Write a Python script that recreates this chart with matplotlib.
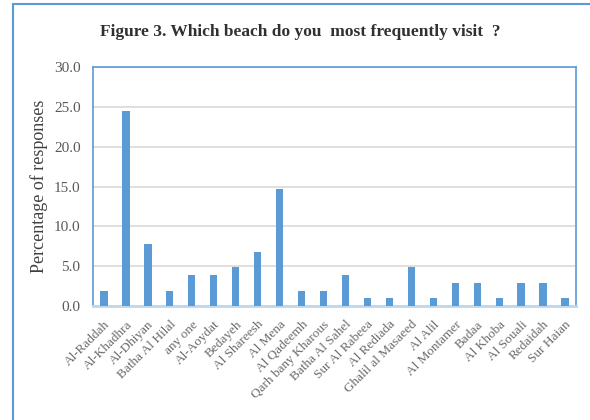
import numpy as np
import matplotlib.pyplot as plt
from matplotlib.patches import Rectangle

plt.rcParams.update({"font.family": "Liberation Serif", "font.size": 10})

beaches = ["Al-Raddah", "Al-Khadhra", "Al-Dhiyan", "Batha Al Hilal", "any one",
           "Al-Aoydat", "Bedayeh", "Al Shareesh", "Al Mena", "Al Qadeemh",
           "Qarh bany Kharous", "Batha Al Sahel", "Sur Al Rabeea", "Al Rediada",
           "Ghalil al Masaeed", "Al Alil", "Al Montamer", "Badaa", "Al Khoba",
           "Al Souali", "Redaidah", "Sur Haian"]
percent = [1.9, 24.5, 7.8, 1.9, 3.9, 3.9, 4.9, 6.8, 14.7, 1.9,
           1.9, 3.9, 1.0, 1.0, 4.9, 1.0, 2.9, 2.9, 1.0, 2.9, 2.9, 1.0]
yticks = [0, 5, 10, 15, 20, 25, 30]

blue = "#5B9BD5"

fig = plt.figure(figsize=(5.9, 4.2), dpi=100)
ax = fig.add_axes([93 / 590, 1 - 306 / 420, (576 - 93) / 590, (306 - 67) / 420])

# outer chart frame, open on the right and bottom
fig.patches.append(Rectangle((13 / 590, -0.1), 1.2, 1 - 4 / 420 + 0.1,
                             transform=fig.transFigure, fill=False,
                             edgecolor=blue, linewidth=1.5))

x = np.arange(len(beaches))
ax.bar(x, percent, width=0.33, color=blue, zorder=3)

ax.set_xlim(-0.5, len(beaches) - 0.5)
ax.set_ylim(0, 30)
ax.set_yticks(yticks)
ax.set_yticklabels([f"{v:.1f}" for v in yticks], color="#595959", fontsize=11)
ax.yaxis.grid(True, color="#D9D9D9", linewidth=1.2, zorder=0)
ax.tick_params(axis="y", length=0, pad=9)

ax.set_xticks(x)
ax.set_xticklabels(beaches, rotation=45, ha="right", rotation_mode="anchor",
                   color="#6B6B6B", fontsize=9.5)
ax.tick_params(axis="x", length=0, pad=9)

for side in ["left", "top", "right"]:
    ax.spines[side].set_color(blue)
    ax.spines[side].set_linewidth(1.2)
ax.spines["bottom"].set_color("#BDD7EE")
ax.spines["bottom"].set_linewidth(2)

ax.set_ylabel("Percentage of responses", fontsize=13, color="#404040", labelpad=4)

fig.text(300 / 590, 1 - 32 / 420, "Figure 3. Which beach do you  most frequently visit  ?",
         ha="center", va="center", fontsize=12.5, fontweight="bold", color="#303030")

fig.savefig("out.png", dpi=100)
